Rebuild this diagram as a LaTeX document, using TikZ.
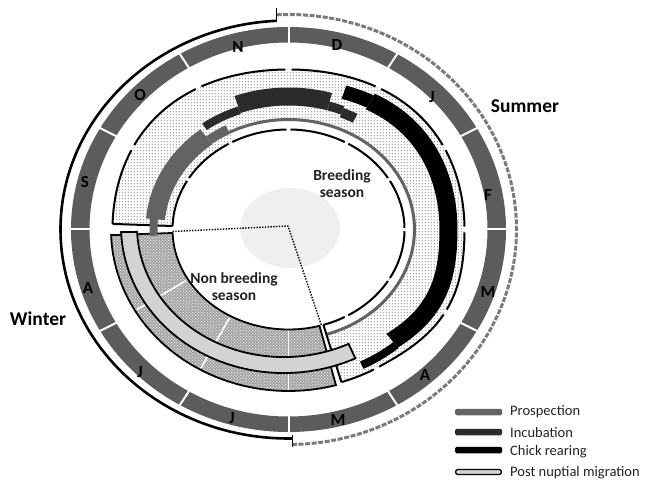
\documentclass[tikz,border=0pt]{standalone}
\usepackage{fontspec}
\setmainfont{Carlito}
\usetikzlibrary{patterns}
\definecolor{monthgray}{HTML}{5C5C5C}
\definecolor{prosgray}{HTML}{636363}
\definecolor{incub}{HTML}{2B2B2B}
\definecolor{migr}{HTML}{D3D3D3}
\definecolor{centerfill}{HTML}{EFEFEF}
\definecolor{dashgray}{HTML}{7A7A7A}
\definecolor{hatchbg}{HTML}{9C9C9C}
\definecolor{dotgray}{HTML}{8A8A8A}
\definecolor{txt}{HTML}{222222}
\pgfdeclarepatternformonly{stipdots}{\pgfqpoint{0pt}{0pt}}{\pgfqpoint{3.2pt}{3.2pt}}{\pgfqpoint{3.2pt}{3.2pt}}{\pgfpathcircle{\pgfqpoint{1.6pt}{1.6pt}}{0.75pt}\pgfusepath{fill}}
\pgfdeclarepatternformonly{holedots}{\pgfqpoint{0pt}{0pt}}{\pgfqpoint{3.4pt}{3.4pt}}{\pgfqpoint{3.4pt}{3.4pt}}{\pgfpathcircle{\pgfqpoint{0.85pt}{0.85pt}}{0.75pt}\pgfpathcircle{\pgfqpoint{2.55pt}{2.55pt}}{0.75pt}\pgfusepath{fill}}
\newcommand\bandpath[4]{plot[domain=#1:#2,samples=60] ({(#4+16)*cos(\x)},{(#4)*sin(\x)}) -- plot[domain=#2:#1,samples=60] ({(#3+16)*cos(\x)},{(#3)*sin(\x)}) -- cycle}
\newcommand\arcpath[3]{plot[domain=#1:#2,samples=40] ({(#3+16)*cos(\x)},{(#3)*sin(\x)})}
\begin{document}
\begin{tikzpicture}[x=1pt,y=1pt,
  declare function={bul(\q)=(\q>=0)*5*(sin(2*\q))^2+(\q<0)*(\q>-60)*5*(sin(3*\q))^2; mig(\q)=131.5-4*cos(\q)+4*sin(\q);},
  monthlbl/.style={font=\bfseries\fontsize{17}{17}\selectfont, text=black, inner sep=0pt},
  season/.style={font=\bfseries\fontsize{15.5}{17}\selectfont, text=txt, align=center, inner sep=0pt},
  sidelbl/.style={font=\bfseries\fontsize{19.5}{20}\selectfont, text=black, inner sep=0pt},
  legtxt/.style={font=\fontsize{14.5}{15}\selectfont, text=txt, anchor=west, inner sep=0pt},
  legbar/.style={minimum width=47pt, minimum height=6.5pt, inner sep=0pt, rounded corners=1.5pt},
  bline/.style={draw=black, line width=2pt},
  hatchband/.style={fill=hatchbg, postaction={pattern=holedots, pattern color=white}},
  stippleband/.style={pattern=stipdots, pattern color=dotgray}]
\useasboundingbox (0,0) rectangle (648,485);
\begin{scope}[shift={(288.5,255.5)}]
  % centre
  \fill[centerfill] (1.5,1.5) ellipse [x radius=50, y radius=40];
  % outer season arcs
  \draw[black, line width=2.6pt] (93:228 and 209) arc[start angle=93, end angle=271, x radius=228, y radius=209];
  \draw[dashgray, line width=3pt, dash pattern=on 5pt off 1.6pt] (93:228 and 215) arc[start angle=93, end angle=-89, x radius=228, y radius=215];
  \coordinate (tt) at (93:228 and 208);
  \coordinate (tb) at (271:228 and 206);
  \draw[black, line width=1.6pt] (tt) -- ++(0,13.5);
  \draw[black, line width=1.6pt] (tb) -- ++(0,-12);
  % month ring
  \fill[monthgray, even odd rule] (0,0) ellipse [x radius=217.5, y radius=202.5] (0,0) ellipse [x radius=199, y radius=187];
  \foreach \a in {0,30,...,330} \draw[white, line width=2pt] (\a:196 and 184) -- (\a:220 and 205);
  % breeding season stipple
  \path[stippleband] \bandpath{-72.5}{178}{100}{160+bul(\x)};
  \fill[white] \bandpath{-72.5}{118}{101}{108.5};
  % prospection
  \fill[prosgray] \bandpath{-72}{118}{108.5}{111.5};
  \fill[prosgray] \bandpath{118}{128}{108.5}{118};
  \fill[prosgray] \bandpath{128}{175}{108}{127};
  % incubation
  \fill[incub] \bandpath{110}{126}{123}{131};
  \fill[incub] \bandpath{74}{110}{124}{142};
  \fill[incub] \bandpath{68}{74}{124}{133};
  \fill[incub] \bandpath{62}{68}{121}{131};
  % chick rearing
  \fill[black] \bandpath{60}{70}{137+bul(\x)}{151+bul(\x)};
  \fill[black] \bandpath{-50}{60}{135+bul(\x)}{153+bul(\x)};
  \fill[black] \bandpath{-64}{-50}{147}{155};
  % breeding outlines with gaps
  \foreach \a/\b in {-72.5/-61,-59/-31,-29/-1,1/29,31/59,61/89,91/119,121/149,151/178} {
    \draw[bline] \arcpath{\a}{\b}{160+bul(\x)};
    \draw[bline] \arcpath{\a}{\b}{100};
  }
  \coordinate (bli) at (178:116 and 100);
  \coordinate (blo) at (178:176 and 160);
  \coordinate (bri) at (-72.5:116 and 100);
  \coordinate (bro) at (-72.5:176 and 160);
  \draw[bline] (bli) -- (blo);
  \draw[bline] (bri) -- (bro);
  % non breeding season
  \path[hatchband] \bandpath{182}{285.5}{100}{161.5};
  \foreach \a in {210,240,270} \draw[white, line width=1.6pt] (\a:118 and 102) -- (\a:175 and 160);
  \draw[bline, line width=1.8pt] \bandpath{182}{285.5}{100}{161.5};
  % post nuptial migration
  \filldraw[fill=migr, draw=black, line width=1.8pt] \bandpath{181}{295}{mig(\x)}{mig(\x)+16};
  % prospection end crossing the gap
  \fill[prosgray] \bandpath{175}{183}{115}{123};
  % dividing dotted line
  \coordinate (dl) at (-116,-2);
  \coordinate (dc) at (-0.5,3.5);
  \coordinate (dr) at (-73.5:116 and 100);
  \draw[black, line width=1.4pt, dash pattern=on 1.4pt off 1.4pt] (dl) -- (dc) -- (dr);
\end{scope}
% month labels
\node[monthlbl] (mN) at (238,438) {N};
\node[monthlbl] (mD) at (337,440) {D};
\node[monthlbl] (mJa) at (432,388) {J};
\node[monthlbl] (mF) at (488,290) {F};
\node[monthlbl] (mMa) at (488,193) {M};
\node[monthlbl] (mAp) at (425,110) {A};
\node[monthlbl] (mMy) at (338,65) {M};
\node[monthlbl] (mJn) at (232,67) {J};
\node[monthlbl] (mJl) at (140,113) {J};
\node[monthlbl] (mAu) at (88,197) {A};
\node[monthlbl] (mS) at (85,303) {S};
\node[monthlbl] (mO) at (140,390) {O};
% season labels
\node[sidelbl] (winter) at (38,166) {Winter};
\node[sidelbl] (summer) at (525,379) {Summer};
\node[season] (breed) at (342,301) {Breeding\\season};
\node[season] (nonbreed) at (234,198) {Non breeding\\season};
% legend
\node[legbar, fill=prosgray] (lb1) at (478.5,73) {};
\node[legbar, fill=incub] (lb2) at (478.5,53) {};
\node[legbar, fill=black] (lb3) at (478.5,35) {};
\node[legbar, fill=migr, draw=black, line width=1.4pt, minimum width=45.5pt, minimum height=5pt] (lb4) at (478.5,13) {};
\node[legtxt] (lt1) at (510,73) {Prospection};
\node[legtxt] (lt2) at (510,52) {Incubation};
\node[legtxt] (lt3) at (510,33) {Chick rearing};
\node[legtxt] (lt4) at (510,12) {Post nuptial migration};
\end{tikzpicture}
\end{document}
